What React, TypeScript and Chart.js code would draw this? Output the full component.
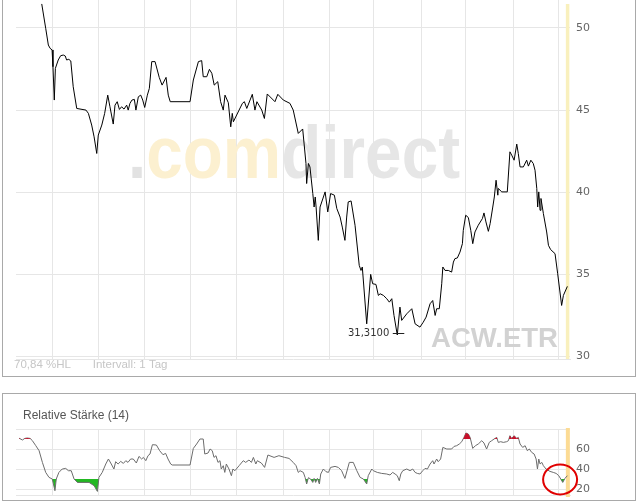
import React, { useEffect, useRef } from "react";
import { Chart, registerables } from "chart.js";

Chart.register(...registerables);

// ---- data (x = trading day index, y = value) ----
const priceDays = [
  11.7, 13.5, 14.7, 15.5, 16.4, 16.8, 17.4, 17.9, 19.2, 20.3, 21.5, 22.4, 23.0, 24.0, 24.9, 26.0, 27.6, 31.8, 32.9, 34.4,
  35.5, 36.7, 37.4, 39.0, 40.3, 41.7, 42.7, 44.2, 45.0, 46.0, 47.0, 48.0, 49.1, 50.3, 51.0, 51.8, 52.7, 53.8, 54.5, 55.6,
  56.7, 57.6, 58.5, 59.7, 60.6, 61.7, 63.2, 65.1, 66.4, 68.2, 69.2, 70.1, 79.1, 80.6, 82.9, 84.4, 85.1, 86.7, 87.9, 89.0,
  90.1, 91.7, 93.0, 94.2, 95.0, 96.5, 97.6, 98.3, 98.8, 100.3, 102.9, 103.8, 104.9, 107.4, 108.6, 109.5, 111.7, 112.9, 114.2, 117.7,
  119.0, 121.5, 124.5, 126.0, 128.3, 130.3, 131.8, 132.1, 132.9, 133.6, 134.9, 135.5, 136.0, 136.4, 137.4, 138.2, 140.5, 141.7, 143.0, 144.7,
  145.8, 147.3, 148.3, 149.5, 150.3, 151.0, 152.3, 154.1, 156.0, 156.8, 157.4, 159.4, 161.2, 162.1, 163.6, 164.7, 165.5, 167.0, 168.5, 169.7,
  170.8, 171.8, 173.3, 174.5, 175.3, 177.6, 179.9, 181.4, 183.6, 185.1, 186.4, 188.2, 189.4, 190.5, 191.2, 192.4, 193.5, 194.0, 195.0, 196.5,
  198.0, 198.8, 199.5, 200.6, 201.8, 202.9, 203.3, 204.4, 205.6, 206.7, 207.6, 208.6, 210.1, 212.0, 212.7, 213.6, 214.7, 215.5, 216.7, 217.4,
  218.2, 219.0, 219.2, 220.8, 223.3, 224.5, 225.3, 226.4, 227.6, 228.3, 229.1, 230.6, 232.1, 232.9, 234.0, 235.1, 235.9, 236.7, 237.1, 237.6,
  238.2, 238.6, 239.7, 241.2, 242.0, 243.0, 245.0, 246.2, 248.0, 248.8, 250.6,
];
const priceValues = [
  51.46, 49.98, 48.96, 48.76, 48.66, 47.64, 45.61, 47.54, 48.05, 48.31, 48.35, 48.29, 48.05, 48.09, 47.99, 46.42, 45.10, 45.00, 44.80, 44.09,
  43.37, 42.36, 43.48, 44.09, 44.80, 45.91, 45.20, 44.15, 45.30, 45.51, 45.04, 45.20, 45.06, 45.30, 45.00, 45.41, 45.61, 45.65, 45.00, 45.81,
  45.91, 45.61, 45.16, 45.91, 46.32, 47.95, 47.95, 46.99, 46.52, 46.99, 45.91, 45.51, 45.51, 46.83, 47.95, 48.01, 47.03, 47.03, 47.48, 47.24,
  46.52, 46.73, 45.51, 45.00, 45.91, 45.45, 43.98, 44.80, 44.29, 44.70, 45.41, 45.51, 45.10, 45.96, 45.00, 45.51, 45.00, 44.49, 45.98, 45.51,
  45.96, 45.61, 45.41, 45.00, 43.58, 43.85, 41.75, 40.53, 41.75, 41.54, 39.92, 39.10, 39.71, 39.10, 37.07, 39.10, 40.02, 38.80, 39.92, 39.82,
  39.01, 38.49, 37.88, 37.07, 38.49, 39.41, 39.47, 37.99, 35.55, 35.24, 35.45, 31.99, 35.00, 34.43, 34.39, 33.72, 33.82, 33.72, 33.52, 33.31,
  33.52, 32.50, 31.31, 33.01, 32.20, 32.60, 32.91, 31.99, 31.79, 32.09, 32.40, 33.21, 33.41, 32.50, 32.91, 32.91, 34.43, 35.45, 35.24, 35.24,
  35.14, 35.75, 35.96, 36.00, 36.36, 36.87, 37.68, 38.60, 38.46, 37.68, 36.87, 37.58, 37.99, 38.40, 38.74, 38.19, 37.62, 38.09, 39.10, 39.71,
  40.73, 39.82, 40.23, 40.02, 40.02, 42.46, 42.26, 41.95, 42.93, 42.36, 41.54, 41.54, 41.95, 41.59, 41.95, 41.75, 41.34, 40.23, 39.10, 40.02,
  38.90, 39.62, 38.70, 37.58, 36.77, 36.51, 36.26, 35.04, 33.11, 33.72, 34.27,
];

const rsiDays = [
  1.4, 2.9, 4.0, 5.1, 6.4, 7.4, 9.0, 10.5, 12.0, 13.5, 15.0, 16.5, 17.7, 18.3, 19.5, 21.0, 22.6, 23.8, 25.1, 26.4,
  27.9, 33.2, 35.5, 37.0, 37.7, 39.2, 40.8, 42.0, 43.3, 44.5, 45.3, 46.4, 47.6, 48.8, 49.9, 50.9, 52.1, 53.3, 54.7, 55.9,
  57.1, 57.9, 59.0, 60.0, 60.9, 62.0, 63.8, 65.3, 66.8, 68.0, 69.1, 70.3, 71.0, 79.1, 80.6, 82.1, 83.6, 85.1, 85.8, 87.3,
  88.2, 89.2, 90.0, 90.9, 91.8, 92.7, 93.3, 94.2, 94.9, 95.6, 96.8, 97.9, 98.6, 99.5, 101.4, 103.3, 104.4, 105.9, 107.0, 107.9,
  109.0, 109.7, 111.5, 113.0, 114.5, 117.3, 119.5, 122.1, 124.1, 126.0, 127.3, 128.3, 129.1, 130.6, 131.4, 132.1, 132.9, 133.9, 134.9, 135.5,
  136.2, 137.0, 137.9, 138.5, 139.7, 140.9, 142.0, 143.0, 145.0, 146.5, 148.0, 149.5, 151.5, 153.3, 154.9, 156.4, 157.9, 159.4, 160.1, 161.7,
  162.4, 164.2, 166.2, 168.5, 170.0, 171.2, 172.3, 173.3, 174.2, 174.9, 175.8, 177.6, 179.1, 180.3, 181.4, 182.4, 183.6, 184.9, 185.9, 187.0,
  188.2, 189.4, 190.0, 191.2, 191.9, 193.0, 194.0, 195.8, 198.0, 199.1, 200.3, 201.5, 202.6, 203.6, 204.5, 205.6, 206.4, 207.6, 208.8, 210.1,
  211.7, 212.7, 213.9, 215.1, 216.2, 217.3, 218.5, 219.2, 220.3, 221.5, 223.0, 223.8, 224.5, 225.3, 226.4, 227.6, 228.3, 229.1, 230.3, 231.4,
  232.4, 233.3, 234.4, 235.5, 236.4, 237.0, 237.6, 238.2, 239.0, 239.7, 240.9, 242.7, 244.2, 245.5, 246.7, 247.6, 248.5, 249.5, 250.6,
];
const rsiValues = [
  70.8, 69.0, 70.6, 71.0, 70.6, 68.5, 63.3, 58.3, 46.6, 36.6, 31.6, 30.0, 18.3, 30.0, 36.6, 40.0, 40.6, 38.3, 38.3, 30.0,
  26.6, 26.6, 23.3, 17.6, 31.6, 36.6, 45.0, 50.0, 45.0, 40.0, 47.3, 45.0, 47.6, 45.6, 48.3, 46.6, 50.0, 50.0, 46.0, 52.6,
  50.0, 51.6, 48.3, 53.3, 55.0, 64.3, 64.0, 58.3, 54.3, 55.6, 50.0, 45.0, 44.0, 44.0, 60.6, 65.0, 70.0, 70.0, 55.0, 56.0,
  60.0, 58.3, 51.6, 53.3, 46.6, 48.3, 40.0, 43.3, 36.6, 45.0, 40.0, 33.3, 40.0, 38.3, 43.3, 48.3, 46.6, 49.0, 46.6, 51.6,
  45.0, 48.3, 46.0, 41.6, 54.0, 51.6, 53.3, 51.6, 50.6, 46.6, 43.3, 36.6, 38.3, 36.6, 31.6, 25.0, 31.3, 30.0, 26.6, 30.6,
  26.6, 30.6, 25.0, 35.0, 40.0, 37.3, 36.6, 41.6, 42.6, 41.6, 38.3, 30.6, 46.6, 46.6, 38.3, 31.6, 30.0, 25.0, 33.3, 40.0,
  38.3, 36.6, 35.6, 35.0, 34.0, 36.6, 35.0, 33.3, 28.3, 35.0, 38.3, 40.0, 38.3, 40.0, 36.6, 35.6, 35.0, 38.3, 40.6, 40.0,
  45.0, 48.3, 45.0, 50.0, 47.3, 50.0, 61.6, 60.0, 60.0, 62.6, 63.3, 65.0, 67.3, 71.6, 76.0, 75.0, 71.6, 60.6, 63.3, 65.0,
  68.3, 66.0, 60.0, 66.6, 68.3, 70.0, 71.6, 66.6, 67.3, 66.6, 67.3, 68.3, 73.3, 70.6, 73.3, 70.6, 71.6, 65.0, 61.6, 63.3,
  58.3, 60.0, 56.6, 55.0, 50.0, 40.0, 50.0, 45.0, 46.6, 43.3, 40.0, 37.6, 36.6, 35.6, 33.3, 30.0, 26.6, 30.6, 33.3,
];

const monthTicks = [16.4, 37.3, 58.2, 79.1, 100, 121.4, 142.7, 162.3, 184.1, 204.5, 225.9, 246.4];
const priceTicks = [30, 35, 40, 45, 50];
const rsiTicks = [20, 30, 40, 50, 60, 70, 80];
const rsiLabelTicks = [20, 40, 60];
const rsiBandTicks = [30, 50, 70];
const rsiSignal = { day: 247.3, value: 29.5 };

const symbolText = "ACW.ETR";
const rangeText = "70,84 %HL";
const intervalText = "Intervall: 1 Tag";
const rsiTitle = "Relative Stärke (14)";
const lowLabel = "31,3100";

const X_MIN = 0;
const X_MAX = 251.8;
const GRID = "#e6e6e6";
const LABEL_FONT = { family: '"DejaVu Sans", Verdana, sans-serif', size: 11 };

function xScale(height: number) {
  return {
    type: "linear" as const,
    min: X_MIN,
    max: X_MAX,
    afterBuildTicks: (s: any) => {
      s.ticks = monthTicks.map((v) => ({ value: v }));
    },
    afterFit: (s: any) => {
      s.height = height;
      s.paddingLeft = 0;
      s.paddingRight = 0;
    },
    ticks: { display: false },
    grid: { color: GRID, drawTicks: false },
    border: { display: true, color: GRID },
  };
}

function yFit(s: any) {
  s.width = 68;
  s.paddingTop = 0;
  s.paddingBottom = 0;
}

export default function App() {
  const priceRef = useRef<HTMLCanvasElement>(null);
  const rsiRef = useRef<HTMLCanvasElement>(null);

  useEffect(() => {
    const lastDay = priceDays[priceDays.length - 1];

    const pricePlugin = {
      id: "priceDecor",
      beforeDatasetsDraw(chart: any) {
        const { ctx, chartArea, scales } = chart;
        ctx.save();
        // watermark
        ctx.font = 'bold 74px "Liberation Sans", Arial, sans-serif';
        ctx.textBaseline = "alphabetic";
        const total = ctx.measureText(".comdirect").width;
        const sx = 332 / total;
        ctx.save();
        ctx.translate(128, 178);
        ctx.scale(sx, 1);
        const parts: [string, string][] = [[".", "#e2e2e2"], ["com", "#fcf0d0"], ["direct", "#e6e6e6"]];
        let x = 0;
        for (const [t, c] of parts) {
          ctx.fillStyle = c;
          ctx.fillText(t, x, 0);
          x += ctx.measureText(t).width;
        }
        ctx.restore();
        // symbol
        ctx.font = 'bold 28px "Liberation Sans", Arial, sans-serif';
        const sw = ctx.measureText(symbolText).width;
        ctx.save();
        ctx.translate(431, 346.5);
        ctx.scale(127 / sw, 1);
        ctx.fillStyle = "#d2d2d2";
        ctx.fillText(symbolText, 0, 0);
        ctx.restore();
        // info texts
        ctx.font = '11.5px "Liberation Sans", Arial, sans-serif';
        ctx.fillStyle = "#c6c6c6";
        ctx.fillText(rangeText, 14, 368);
        ctx.fillText(intervalText, 92.7, 368);
        // today band
        const bx = scales.x.getPixelForValue(lastDay);
        ctx.fillStyle = "#f9f0bd";
        ctx.fillRect(bx - 1.5, 4, 3.5, chartArea.bottom - 4);
        ctx.restore();
      },
      afterDatasetsDraw(chart: any) {
        const { ctx, scales } = chart;
        let mi = 0;
        priceValues.forEach((v, i) => {
          if (v < priceValues[mi]) mi = i;
        });
        const px = scales.x.getPixelForValue(priceDays[mi]);
        const py = Math.round(scales.y.getPixelForValue(priceValues[mi])) - 1.5;
        ctx.save();
        ctx.strokeStyle = "#222";
        ctx.lineWidth = 1;
        ctx.beginPath();
        ctx.moveTo(px - 4.5, py);
        ctx.lineTo(px + 7, py);
        ctx.stroke();
        ctx.font = '10px "DejaVu Sans", Verdana, sans-serif';
        ctx.fillStyle = "#333";
        ctx.textAlign = "right";
        ctx.textBaseline = "middle";
        ctx.fillText(lowLabel, px - 8, py);
        ctx.restore();
      },
    };

    const priceChart = new Chart(priceRef.current as HTMLCanvasElement, {
      type: "line",
      data: {
        datasets: [
          {
            data: priceDays.map((d, i) => ({ x: d, y: priceValues[i] })),
            borderColor: "#000",
            borderWidth: 1,
            pointRadius: 0,
            tension: 0,
            fill: false,
          },
        ],
      },
      options: {
        animation: false,
        responsive: false,
        devicePixelRatio: 1,
        layout: { padding: { left: 16, right: 0, top: 0, bottom: 0 } },
        plugins: { legend: { display: false }, tooltip: { enabled: false } },
        scales: {
          x: xScale(18) as any,
          y: {
            position: "right",
            min: 29.85,
            max: 51.7,
            afterBuildTicks: (s: any) => {
              s.ticks = priceTicks.map((v) => ({ value: v }));
            },
            afterFit: yFit,
            ticks: { padding: 6, color: "#666", font: LABEL_FONT },
            grid: { color: GRID, drawTicks: false },
            border: { display: false },
          },
        },
      },
      plugins: [pricePlugin],
    });

    const rsiPlugin = {
      id: "rsiDecor",
      beforeDatasetsDraw(chart: any) {
        const { ctx, chartArea, scales } = chart;
        ctx.save();
        const bx = scales.x.getPixelForValue(lastDay);
        ctx.fillStyle = "#fcdb94";
        ctx.fillRect(bx - 1.5, chartArea.top - 1, 4, chartArea.bottom - chartArea.top + 3);
        ctx.restore();
      },
      afterDraw(chart: any) {
        const { ctx, scales } = chart;
        ctx.save();
        ctx.font = '12px "Liberation Sans", Arial, sans-serif';
        ctx.fillStyle = "#555";
        ctx.textBaseline = "alphabetic";
        ctx.fillText(rsiTitle, 23, 26);
        const cx = scales.x.getPixelForValue(rsiSignal.day);
        const cy = scales.y.getPixelForValue(rsiSignal.value);
        ctx.strokeStyle = "#e00000";
        ctx.lineWidth = 2;
        ctx.beginPath();
        ctx.ellipse(cx, cy, 17, 15, 0, 0, Math.PI * 2);
        ctx.stroke();
        ctx.restore();
      },
    };

    const rsiPoints = rsiDays.map((d, i) => ({ x: d, y: rsiValues[i] }));
    const rsiChart = new Chart(rsiRef.current as HTMLCanvasElement, {
      type: "line",
      data: {
        datasets: [
          {
            data: rsiPoints,
            borderColor: "rgba(0,0,0,0)",
            borderWidth: 0,
            pointRadius: 0,
            tension: 0,
            fill: { target: { value: 70 }, above: "#c8102a", below: "rgba(0,0,0,0)" },
          },
          {
            data: rsiPoints,
            borderColor: "#6c6c6c",
            borderWidth: 1,
            pointRadius: 0,
            tension: 0,
            fill: { target: { value: 30 }, above: "rgba(0,0,0,0)", below: "#22b822" },
          },
        ],
      },
      options: {
        animation: false,
        responsive: false,
        devicePixelRatio: 1,
        layout: { padding: { left: 16, right: 0, top: 36, bottom: 0 } },
        plugins: { legend: { display: false }, tooltip: { enabled: false } },
        scales: {
          x: xScale(8) as any,
          y: {
            position: "right",
            min: 14,
            max: 80,
            afterBuildTicks: (s: any) => {
              s.ticks = rsiTicks.map((v) => ({ value: v }));
            },
            afterFit: yFit,
            ticks: {
              padding: 6,
              color: "#666",
              font: LABEL_FONT,
              callback: (v: any) => (rsiLabelTicks.includes(Number(v)) ? String(v) : ""),
            },
            grid: {
              drawTicks: false,
              color: (c: any) => (rsiBandTicks.includes(c.tick?.value) ? "#f6e4bb" : GRID),
              lineWidth: (c: any) => (rsiBandTicks.includes(c.tick?.value) ? 2 : 1),
            },
            border: { display: false },
          },
        },
      },
      plugins: [rsiPlugin],
    });

    return () => {
      priceChart.destroy();
      rsiChart.destroy();
    };
  }, []);

  return (
    <div
      style={{
        position: "fixed",
        left: 0,
        top: 0,
        width: 638,
        height: 503,
        background: "#fff",
        overflow: "hidden",
      }}
    >
      <div
        style={{
          position: "absolute",
          left: 2,
          top: -1,
          width: 634,
          height: 378,
          border: "1px solid #a9a9a9",
          boxSizing: "border-box",
        }}
      />
      <div
        style={{
          position: "absolute",
          left: 2,
          top: 393,
          width: 634,
          height: 108,
          border: "1px solid #a9a9a9",
          boxSizing: "border-box",
        }}
      />
      <canvas
        ref={priceRef}
        width={638}
        height={377}
        style={{ position: "absolute", left: 0, top: 0, width: 638, height: 377 }}
      />
      <canvas
        ref={rsiRef}
        width={638}
        height={110}
        style={{ position: "absolute", left: 0, top: 393, width: 638, height: 110 }}
      />
    </div>
  );
}
